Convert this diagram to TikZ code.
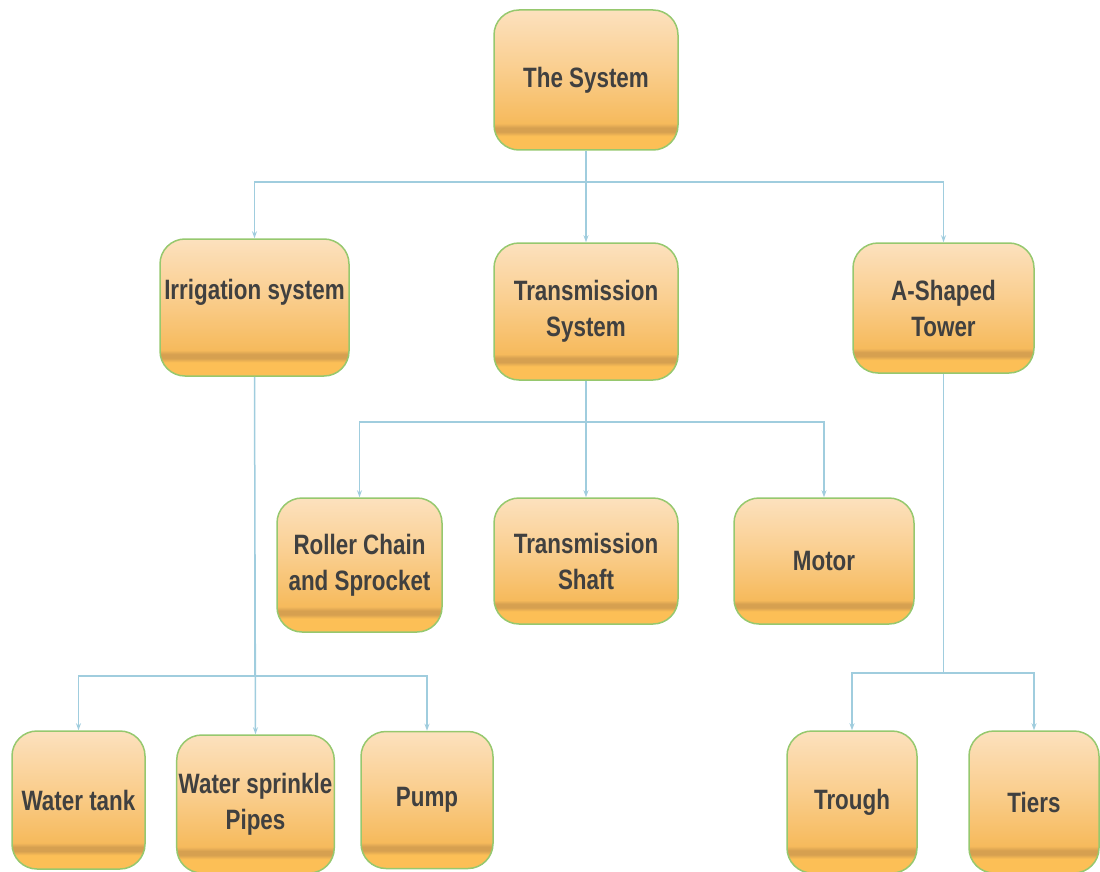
\documentclass[tikz,border=0pt]{standalone}
\usepackage{fontspec}
\setmainfont[FakeStretch=0.8]{Liberation Sans}
\usepackage{tikz}
\usetikzlibrary{arrows.meta}

\definecolor{otop}{RGB}{252,225,190}
\definecolor{omidtwo}{RGB}{250,207,145}
\definecolor{omid}{RGB}{246,186,92}
\definecolor{oband}{RGB}{214,160,80}
\definecolor{obot}{RGB}{252,191,86}
\definecolor{boxline}{RGB}{150,200,110}
\definecolor{linkblue}{RGB}{160,205,222}
\definecolor{boxtext}{RGB}{64,64,64}

\pgfdeclareverticalshading{boxshade}{100bp}{color(0bp)=(obot); color(30bp)=(obot); color(31.5bp)=(oband); color(33bp)=(oband); color(34.5bp)=(omid); color(55bp)=(omidtwo); color(75bp)=(otop); color(100bp)=(otop)}

\tikzset{
  partbox/.style = {draw=boxline, line width=1.5pt, rounded corners=25pt,
    shading=boxshade, text=boxtext, align=center, inner sep=2pt,
    font=\fontsize{28}{36}\selectfont\bfseries},
  link/.style = {draw=linkblue, line width=1.5pt, -{Stealth[length=7pt,width=5pt]}}
}

\begin{document}
\begin{tikzpicture}[x=1pt, y=-1pt]
\useasboundingbox (0,0) rectangle (1100,872);

\node[partbox, minimum width=184pt, minimum height=140pt] (sys) at (586,80) {The System};

\node[partbox, minimum width=189pt, minimum height=137pt, text depth=36pt] (irr) at (254.5,307.5) {Irrigation system};
\node[partbox, minimum width=184pt, minimum height=137pt] (trans) at (586,311.5) {Transmission\\System};
\node[partbox, minimum width=181pt, minimum height=130pt] (tower) at (943.5,308) {A-Shaped\\Tower};

\node[partbox, minimum width=165pt, minimum height=134pt] (chain) at (359.5,565) {Roller Chain\\and Sprocket};
\node[partbox, minimum width=184pt, minimum height=126pt] (shaft) at (586,561) {Transmission\\Shaft};
\node[partbox, minimum width=180pt, minimum height=126pt] (motor) at (824,561) {Motor};

\node[partbox, minimum width=133pt, minimum height=138pt] (tank) at (78.5,800) {Water tank};
\node[partbox, minimum width=157pt, minimum height=138pt] (pipes) at (255.5,804) {Water sprinkle\\Pipes};
\node[partbox, minimum width=132pt, minimum height=137pt] (pump) at (427,800) {Pump};

\node[partbox, minimum width=130pt, minimum height=142pt] (trough) at (852,802) {Trough};
\node[partbox, minimum width=130pt, minimum height=142pt] (tiers) at (1034,802) {Tiers};

\coordinate (busA) at (0,182);
\coordinate (busB) at (0,422);
\coordinate (busC) at (0,676);
\coordinate (busD) at (0,673);

\draw[link] (sys.south) -- (sys.south |- busA) -| (irr.north);
\draw[link] (sys.south) -- (trans.north);
\draw[link] (sys.south) -- (sys.south |- busA) -| (tower.north);

\draw[link] (trans.south) -- (trans.south |- busB) -| (chain.north);
\draw[link] (trans.south) -- (shaft.north);
\draw[link] (trans.south) -- (trans.south |- busB) -| (motor.north);

\draw[link] (irr.south) -- (irr.south |- busC) -| (tank.north);
\draw[link] (irr.south) -- (pipes.north);
\draw[link] (irr.south) -- (irr.south |- busC) -| (pump.north);

\draw[link] (tower.south) -- (tower.south |- busD) -| (trough.north);
\draw[link] (tower.south) -- (tower.south |- busD) -| (tiers.north);
\end{tikzpicture}
\end{document}
